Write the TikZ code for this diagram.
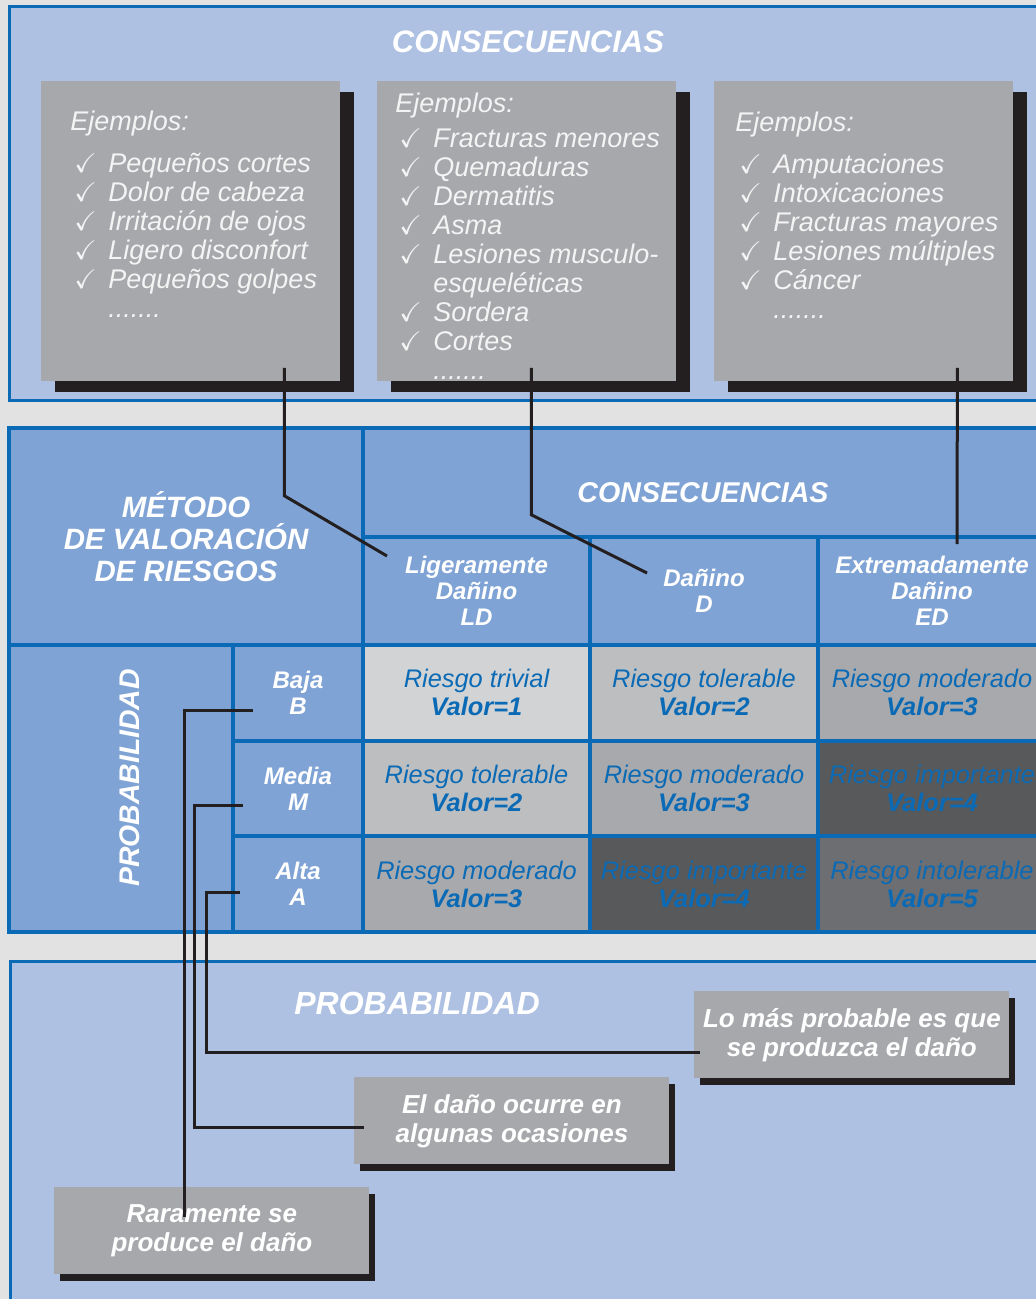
\documentclass[tikz,border=0pt]{standalone}
\usepackage{amssymb}
\usepackage{fontspec}
\setmainfont{Liberation Sans}
\usepackage{xcolor}
\usepackage{tikz}
\usetikzlibrary{shadows}

\definecolor{bggray}{HTML}{E2E2E2}
\definecolor{panelblue}{HTML}{AEC1E3}
\definecolor{tableblue}{HTML}{7FA3D5}
\definecolor{lineblue}{HTML}{0B6AB5}
\definecolor{boxgray}{HTML}{A7A8AC}
\definecolor{shadowblack}{HTML}{231F20}
\definecolor{riskA}{HTML}{D1D3D4}
\definecolor{riskB}{HTML}{BCBEC0}
\definecolor{riskC}{HTML}{A7A9AC}
\definecolor{riskD}{HTML}{58595B}
\definecolor{riskE}{HTML}{6D6E71}
\definecolor{softwhite}{HTML}{F4F4F4}

\newcommand{\ck}{\makebox[19pt][l]{\hspace{2pt}$\checkmark$}}
\newcommand{\nock}{\hspace*{19pt}}

\begin{document}
\begin{tikzpicture}[x=0.5pt, y=-0.5pt]
\tikzstyle{panel}=[draw=lineblue, line width=1.5pt, fill=panelblue]
\tikzstyle{exbox}=[fill=boxgray, anchor=north west, minimum width=149.5pt, minimum height=150pt, inner sep=0pt, drop shadow={shadow xshift=7pt, shadow yshift=-5.5pt, fill=shadowblack, opacity=1}]
\tikzstyle{extext}=[anchor=north west, align=left, inner sep=0pt, text=softwhite, font=\fontsize{13.5}{14.5}\selectfont\itshape]
\tikzstyle{cell}=[draw=lineblue, line width=2pt, fill=tableblue, anchor=north west, inner sep=0pt, outer sep=0pt, align=center, text=white]
\tikzstyle{head}=[cell, font=\fontsize{12}{13}\selectfont\bfseries\itshape]
\tikzstyle{risk}=[cell, minimum width=114pt, minimum height=47.83pt, text=lineblue, font=\fontsize{12.7}{14}\selectfont\itshape]
\tikzstyle{probbox}=[fill=boxgray, anchor=north west, minimum width=157.5pt, minimum height=43.5pt, align=center, text=white, font=\fontsize{13}{14.5}\selectfont\bfseries\itshape, drop shadow={shadow xshift=3pt, shadow yshift=-3.5pt, fill=shadowblack, opacity=1}]
\tikzstyle{paneltitle}=[text=white, font=\fontsize{15.5}{17}\selectfont\bfseries\itshape]
\tikzstyle{link}=[draw=shadowblack, line width=1.5pt]

\useasboundingbox (0,0) rectangle (1036,1299);
\clip (0,0) rectangle (1036,1299);
\fill[bggray] (0,0) rectangle (1036,1299);

% consequences with examples
\draw[panel] (9,6.5) rectangle (1050,400);
\node[paneltitle] (constitle) at (528,42) {CONSECUENCIAS};

\node[exbox] (ex1) at (41,81) {};
\node[exbox] (ex2) at (377,81) {};
\node[exbox] (ex3) at (714,81) {};

\node[extext] (ex1txt) at (70,110.5) {Ejemplos:\\[6.5pt]
  \ck Pequeños cortes\\ \ck Dolor de cabeza\\ \ck Irritación de ojos\\
  \ck Ligero disconfort\\ \ck Pequeños golpes\\ \nock .......};
\node[extext] (ex2txt) at (395,92.5) {Ejemplos:\\[3pt]
  \ck Fracturas menores\\ \ck Quemaduras\\ \ck Dermatitis\\ \ck Asma\\
  \ck Lesiones musculo-\\ \nock esqueléticas\\ \ck Sordera\\ \ck Cortes\\ \nock .......};
\node[extext] (ex3txt) at (735,111.5) {Ejemplos:\\[6.5pt]
  \ck Amputaciones\\ \ck Intoxicaciones\\ \ck Fracturas mayores\\
  \ck Lesiones múltiples\\ \ck Cáncer\\ \nock .......};

% risk matrix
\node[cell, minimum width=177pt, minimum height=108.5pt, font=\fontsize{14.7}{16}\selectfont\bfseries\itshape] (metodo) at (9,428) {MÉTODO\\DE VALORACIÓN\\DE RIESGOS};
\node[cell, minimum width=340pt, minimum height=54.5pt, text height=20.5pt, font=\fontsize{14.3}{16}\selectfont\bfseries\itshape] (conshdr) at (363,428) {CONSECUENCIAS};
\node[head, minimum width=113.5pt, minimum height=54pt] (ld) at (363,537) {Ligeramente\\Dañino\\LD};
\node[head, minimum width=114pt, minimum height=54pt] (dd) at (590,537) {Dañino\\D};
\node[head, minimum width=114pt, minimum height=54pt] (ed) at (818,537) {Extremadamente\\Dañino\\ED};

\node[cell, minimum width=112pt, minimum height=143.5pt] (prob) at (9,645) {};
\node[rotate=90, text=white, font=\fontsize{14.2}{16}\selectfont\bfseries\itshape] (problbl) at (130,778) {PROBABILIDAD};
\node[head, minimum width=65pt, minimum height=47.83pt] (baja) at (233,645) {Baja\\B};
\node[head, minimum width=65pt, minimum height=47.83pt] (media) at (233,740.67) {Media\\M};
\node[head, minimum width=65pt, minimum height=47.83pt] (alta) at (233,836.33) {Alta\\A};

\node[risk, minimum width=113.5pt, fill=riskA] (bld) at (363,645) {Riesgo trivial\\\textbf{Valor=1}};
\node[risk, fill=riskB] (bd) at (590,645) {Riesgo tolerable\\\textbf{Valor=2}};
\node[risk, fill=riskC] (bed) at (818,645) {Riesgo moderado\\\textbf{Valor=3}};
\node[risk, minimum width=113.5pt, fill=riskB] (mld) at (363,740.67) {Riesgo tolerable\\\textbf{Valor=2}};
\node[risk, fill=riskC] (md) at (590,740.67) {Riesgo moderado\\\textbf{Valor=3}};
\node[risk, fill=riskD] (med) at (818,740.67) {Riesgo importante\\\textbf{Valor=4}};
\node[risk, minimum width=113.5pt, fill=riskC] (ald) at (363,836.33) {Riesgo moderado\\\textbf{Valor=3}};
\node[risk, fill=riskD] (ad) at (590,836.33) {Riesgo importante\\\textbf{Valor=4}};
\node[risk, fill=riskE] (aed) at (818,836.33) {Riesgo intolerable\\\textbf{Valor=5}};

% probability panel
\draw[panel] (10,961) rectangle (1050,1320);
\node[paneltitle, font=\fontsize{16}{17}\selectfont\bfseries\itshape] (probtitle) at (417,1003) {PROBABILIDAD};
\node[probbox] (likely) at (694,991) {Lo más probable es que\\se produzca el daño};
\node[probbox] (some) at (354,1077) {El daño ocurre en\\algunas ocasiones};
\node[probbox] (rare) at (54,1187) {Raramente se\\produce el daño};

% connectors
\draw[link] ([shift={(46.75pt,7pt)}]ex1.south) -- ++(0,128) -- ([shift={(12pt,-9.5pt)}]ld.north west);
\draw[link] ([shift={(2.25pt,7pt)}]ex2.south) -- ++(0,147) -- ([shift={(28.5pt,-18pt)}]dd.north west);
\draw[link] ([shift={(46.75pt,7pt)}]ex3.south) -- ([shift={(12.5pt,-3.5pt)}]ed.north);
\draw[link] ([shift={(10pt,-9pt)}]baja.west) -| ([shift={(-13.75pt,-15pt)}]rare.north);
\draw[link] ([shift={(5pt,-8.25pt)}]media.west) -- ++(-49,0) |- ([shift={(5pt,-3.5pt)}]some.west);
\draw[link] ([shift={(3.5pt,-4pt)}]alta.west) -- ++(-34,0) |- ([shift={(3pt,-8.75pt)}]likely.west);
\end{tikzpicture}
\end{document}
